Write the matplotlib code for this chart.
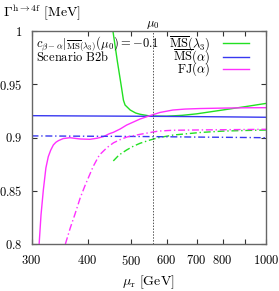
import matplotlib
matplotlib.use('Agg')
import matplotlib.pyplot as plt
from matplotlib.ticker import FixedLocator, FixedFormatter, NullLocator

# MSbar(lambda3) scheme
mu_msl3 = [455, 466, 476, 481, 485, 498, 512, 524, 551, 600, 650, 700, 800, 900, 1000]
gam_msl3 = [1.002, 0.972, 0.9475, 0.935, 0.9305, 0.9258, 0.923, 0.9218, 0.9202, 0.9200,
            0.9208, 0.9222, 0.9258, 0.929, 0.932]
mu_msl3_dd = [456.6, 470, 489, 506, 524, 550, 575, 621, 713, 800, 900, 1000]
gam_msl3_dd = [0.878, 0.8835, 0.8883, 0.8918, 0.8946, 0.8975, 0.8998, 0.9023, 0.9047,
               0.906, 0.9066, 0.907]

# MSbar(alpha) scheme
mu_msa = [300, 400, 500, 600, 700, 800, 900, 1000]
gam_msa = [0.9205, 0.9202, 0.9200, 0.9198, 0.9196, 0.9194, 0.9192, 0.9190]
gam_msa_dd = [0.9015, 0.9012, 0.9010, 0.9007, 0.9004, 0.9002, 0.9000, 0.8998]

# FJ(alpha) scheme
mu_fja = [312, 315, 318.8, 323, 327, 331, 335.6, 340, 344.3, 353, 365.6, 385, 405, 420,
          434, 447, 457, 473, 489, 506, 524, 551, 580, 620, 660, 713, 800, 900, 1000]
gam_fja = [0.800, 0.8272, 0.8507, 0.8714, 0.882, 0.888, 0.893, 0.8955, 0.897, 0.899,
           0.8998, 0.8986, 0.8983, 0.8993, 0.9008, 0.9035, 0.9049, 0.908, 0.9117, 0.9145,
           0.9174, 0.9205, 0.9235, 0.9258, 0.9267, 0.9272, 0.9276, 0.9279, 0.928]
mu_fja_dd = [357, 366, 375, 385, 395, 412, 425, 442, 457, 473, 490, 524, 575, 620, 713,
             850, 1000]
gam_fja_dd = [0.800, 0.815, 0.828, 0.843, 0.855, 0.873, 0.8835, 0.8905, 0.8950, 0.898,
              0.9005, 0.903, 0.906, 0.9068, 0.9071, 0.9074, 0.9077]

mu0 = 560
xticks = [300, 400, 500, 600, 700, 800, 900, 1000]
xticklabels = ['300', '400', '500', '600', '700', '800', '', '1000']
yticks = [0.8, 0.85, 0.9, 0.95, 1.0]
yticklabels = ['0.8', '0.85', '0.9', '0.95', '1']

plt.rcParams['mathtext.fontset'] = 'cm'
plt.rcParams['font.size'] = 9

green = '#22e022'
blue = '#3838f0'
magenta = '#ff30ff'
dd = (0, (5, 2, 1, 2))

fig = plt.figure(figsize=(2.79, 2.91), dpi=100)
ax = fig.add_axes([31.5/279, 47/291, 234.5/279, 213/291])
ax.set_xscale('log')

l1, = ax.plot(mu_msl3, gam_msl3, color=green, lw=1.0)
l2, = ax.plot(mu_msa, gam_msa, color=blue, lw=1.0)
l3, = ax.plot(mu_fja, gam_fja, color=magenta, lw=1.0)
ax.plot(mu_msl3_dd, gam_msl3_dd, color=green, lw=1.0, linestyle=dd)
ax.plot(mu_msa, gam_msa_dd, color=blue, lw=1.0, linestyle=dd)
ax.plot(mu_fja_dd, gam_fja_dd, color=magenta, lw=1.0, linestyle=dd)
ax.axvline(mu0, color='#555555', lw=0.7, linestyle=(0, (1.5, 1.5)))

ax.set_xlim(300, 1000)
ax.set_ylim(0.8, 1.0)
ax.xaxis.set_major_locator(FixedLocator(xticks))
ax.xaxis.set_major_formatter(FixedFormatter(['$%s$' % t if t else '' for t in xticklabels]))
ax.xaxis.set_minor_locator(NullLocator())
ax.yaxis.set_major_locator(FixedLocator(yticks))
ax.yaxis.set_major_formatter(FixedFormatter(['$%s$' % t for t in yticklabels]))
ax.tick_params(direction='in', top=True, right=True, length=3.5, width=0.8,
               color='#333333', labelsize=9)
ax.tick_params(axis='y', pad=6.5)
ax.tick_params(axis='x', pad=7)
for sp in ax.spines.values():
    sp.set_color('#666666')
    sp.set_linewidth(1.0)

ax.set_xlabel(r'$\mu_{\mathrm{r}}\ [\mathrm{GeV}]$', fontsize=10, labelpad=4)
fig.text(3/279, 1 - 2/291, r'$\Gamma^{\mathrm{h}\to 4\mathrm{f}}\ [\mathrm{MeV}]$',
         fontsize=10, ha='left', va='top')
ax.text(mu0, 1.0, r'$\mu_0$', transform=ax.get_xaxis_transform(), ha='center',
        va='bottom', fontsize=9)

ax.text(0.02, 0.925, r'$c_{\beta-\alpha}|_{\overline{\mathrm{MS}}(\lambda_3)}(\mu_0) = -0.1$',
        transform=ax.transAxes, ha='left', va='baseline', fontsize=9)
ax.text(0.02, 0.858, r'$\mathrm{Scenario\ B2b}$', transform=ax.transAxes,
        ha='left', va='baseline', fontsize=9)

ax.legend([l1, l2, l3],
          [r'$\overline{\mathrm{MS}}(\lambda_3)$', r'$\overline{\mathrm{MS}}(\alpha)$',
           r'$\mathrm{FJ}(\alpha)$'],
          loc='upper right', bbox_to_anchor=(0.9275, 0.985), frameon=False,
          markerfirst=False, handlelength=2.1, handletextpad=1.0, labelspacing=-0.45,
          borderpad=0, borderaxespad=0, fontsize=9)

fig.savefig('out.png', dpi=100)
plt.close(fig)
